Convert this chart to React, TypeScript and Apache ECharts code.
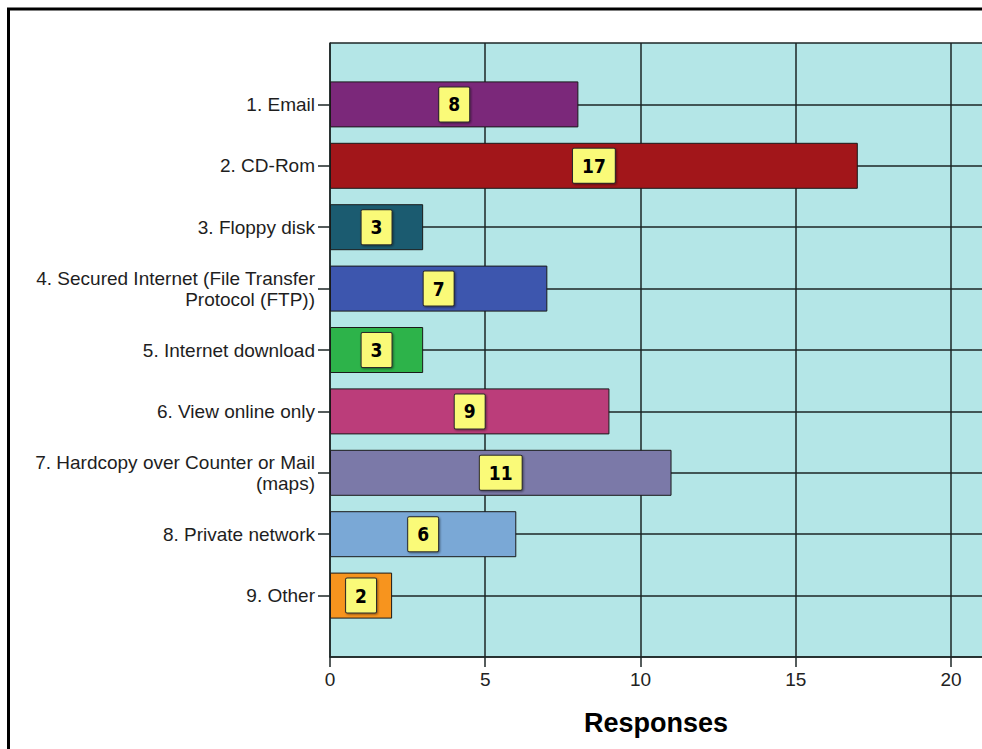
import React, { useEffect, useRef } from "react";
import * as echarts from "echarts";

// Survey: delivery methods used, number of responses per method
const methods: string[] = [
  "1. Email",
  "2. CD-Rom",
  "3. Floppy disk",
  "4. Secured Internet (File Transfer\nProtocol (FTP))",
  "5. Internet download",
  "6. View online only",
  "7. Hardcopy over Counter or Mail\n(maps)",
  "8. Private network",
  "9. Other",
];
const responses: number[] = [8, 17, 3, 7, 3, 9, 11, 6, 2];
const barColors: string[] = [
  "#7B287A",
  "#A2161A",
  "#1B5B70",
  "#3D56AE",
  "#2DB34A",
  "#BB3D7A",
  "#7B79A8",
  "#7AA8D6",
  "#F7941E",
];
const xTicks: number[] = [0, 5, 10, 15, 20];

const SANS = "'Liberation Sans', Arial, sans-serif";
const NARROW = "'Liberation Sans Narrow', 'DejaVu Sans Condensed', 'Liberation Sans', Arial, sans-serif";

export default function App() {
  const ref = useRef<HTMLDivElement>(null);

  useEffect(() => {
    if (!ref.current) return;
    const chart = echarts.init(ref.current, null, { renderer: "svg" });

    // half-band of empty space above the first and below the last category
    const cats = ["", ...methods, ""];
    const data: any[] = [null];
    responses.forEach((v, i) => {
      data.push({ value: v, itemStyle: { color: barColors[i] } });
    });
    data.push(null);
    const isInner = (i: number) => i > 0 && i < cats.length - 1;

    const option: echarts.EChartsOption = {
      animation: false,
      backgroundColor: "#ffffff",
      graphic: [
        {
          type: "rect",
          shape: { x: 8.5, y: 9, width: 1100, height: 1000 },
          style: { fill: "none", stroke: "#000000", lineWidth: 3 },
          z: 100,
          silent: true,
        },
      ],
      grid: {
        left: 330,
        right: 0,
        top: 43,
        bottom: 92,
        show: true,
        backgroundColor: "#B4E6E7",
        borderWidth: 0,
      },
      xAxis: {
        type: "value",
        min: 0,
        max: 21,
        interval: 5,
        name: "Responses",
        nameLocation: "middle",
        nameGap: 52,
        nameTextStyle: {
          fontFamily: SANS,
          fontWeight: "bold",
          fontSize: 27,
          color: "#000000",
        },
        axisLine: { show: true, lineStyle: { color: "#1c2626", width: 1.5 } },
        axisTick: {
          show: true,
          length: 10,
          customValues: xTicks,
          lineStyle: { color: "#1c2626", width: 1.5 },
        },
        axisLabel: {
          margin: 13,
          customValues: xTicks,
          fontFamily: SANS,
          fontSize: 19,
          color: "#222222",
          formatter: (v: number) => (xTicks.includes(v) ? String(v) : ""),
        },
        splitLine: {
          show: true,
          lineStyle: { color: "#1c2626", width: 1.5 },
        },
      } as any,
      yAxis: {
        type: "category",
        data: cats,
        inverse: true,
        boundaryGap: false,
        axisLine: { show: true, lineStyle: { color: "#1c2626", width: 1.5 } },
        axisTick: {
          show: true,
          length: 12,
          interval: (i: number) => isInner(i),
          lineStyle: { color: "#1c2626", width: 1.5 },
        },
        axisLabel: {
          margin: 15,
          interval: (i: number) => isInner(i),
          fontFamily: SANS,
          fontSize: 19,
          lineHeight: 21,
          color: "#1e1e1e",
          align: "right",
        },
        splitLine: {
          show: true,
          interval: 0,
          lineStyle: { color: "#1c2626", width: 1.5 },
        },
      },
      series: [
        {
          type: "bar",
          data,
          barWidth: 46,
          itemStyle: { borderColor: "#1a1a1a", borderWidth: 1 },
          label: {
            show: true,
            position: "inside",
            fontFamily: NARROW,
            fontWeight: "bold",
            fontSize: 19,
            lineHeight: 20,
            color: "#000000",
            backgroundColor: "#FAFA78",
            borderColor: "#2a2a2a",
            borderWidth: 1,
            borderRadius: 1,
            padding: [7, 9],
            shadowColor: "rgba(0,0,0,0.45)",
            shadowBlur: 2,
            shadowOffsetX: 1,
            shadowOffsetY: 1,
          },
        },
      ],
    };

    chart.setOption(option);
    return () => chart.dispose();
  }, []);

  return (
    <div
      ref={ref}
      style={{ position: "fixed", left: 0, top: 0, width: 982, height: 749 }}
    />
  );
}
